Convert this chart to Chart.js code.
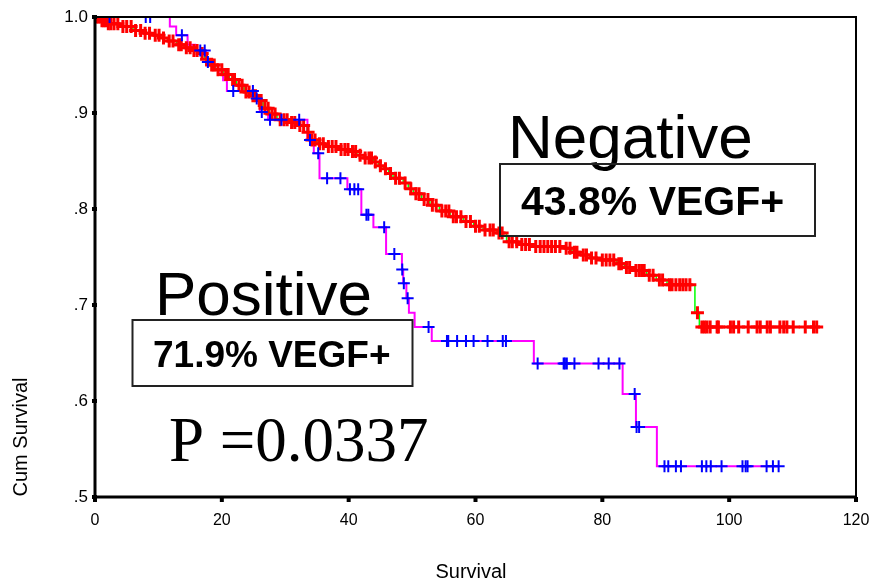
<!DOCTYPE html>
<html><head><meta charset="utf-8">
<script src="https://cdn.jsdelivr.net/npm/chart.js@4.4.0/dist/chart.umd.min.js"></script>
<style>html,body{margin:0;padding:0;background:#fff}</style>
</head><body>
<canvas id="km" width="875" height="580"></canvas>
<script>
/* ===== DATA ===== */

// Negative group: event times and survival after each drop
const negTimes=[0,1.0,2.0,4.0,6.0,7.5,9.0,10.3,11.5,12.9,14.0,15.3,16.6,17.3,18.1,19.0,20.2,21.2,22.3,23.5,24.5,25.5,26.5,27.5,28.7,30.5,31.8,33.4,33.9,35.0,36.5,38.5,40.2,41.3,42.3,43.9,44.7,45.5,46.3,47.0,48.6,49.4,50.2,51.5,52.8,54.3,56.0,58.1,59.7,61.2,63.4,64.9,67.0,69.1,73.9,75.2,76.5,78.0,79.7,82.3,83.5,84.9,87.0,88.5,90.2,94.6,95.3]
const negSurv=[1,.996,.993,.990,.986,.983,.981,.978,.975,.971,.968,.965,.962,.956,.950,.945,.940,.935,.929,.922,.918,.913,.905,.899,.893,.890,.887,.880,.872,.868,.865,.862,.860,.856,.853,.849,.845,.842,.837,.832,.827,.821,.816,.810,.804,.798,.792,.787,.782,.778,.775,.766,.763,.761,.759,.755,.752,.749,.747,.743,.739,.736,.731,.726,.721,.692,.677]
const negEnd=114.8
const negCensor=[0.2,0.5,0.8,1.1,1.4,1.7,2.1,2.5,3.0,3.6,4.4,5.0,5.7,6.4,7.2,7.9,8.6,9.5,10.1,10.8,11.7,12.3,13.2,13.6,14.4,15.0,15.6,16.1,16.9,17.6,18.4,18.8,19.4,20.0,20.6,21.0,21.7,22.0,22.7,23.2,23.8,24.3,24.9,25.3,25.9,26.2,26.8,27.3,27.9,28.4,29.2,29.8,30.3,31.0,31.5,32.3,32.9,33.6,34.2,34.7,35.4,36.0,36.8,37.4,38.0,38.8,39.4,39.9,40.6,41.1,41.8,42.6,43.2,43.6,44.2,45.0,45.8,46.6,47.4,48.0,48.9,49.8,50.6,51.1,51.9,52.5,53.2,53.8,54.7,55.3,55.8,56.5,57.0,57.7,58.5,59.2,60.0,60.6,61.5,62.3,62.8,63.7,64.2,65.3,65.8,66.5,67.3,67.9,68.5,69.5,70.2,70.8,71.4,72.0,72.6,73.3,74.3,74.9,75.6,76.0,77.0,77.5,78.3,79.0,80.0,80.6,81.2,81.8,82.6,83.0,83.8,84.3,85.3,85.8,86.2,86.6,87.4,88.0,89.0,89.5,90.6,91.0,91.6,92.2,92.7,93.2,93.8,95.0,95.7,96.1,96.5,97.0,98.1,98.3,100.2,100.7,101.5,103.0,104.4,104.9,106.0,106.5,108.0,108.6,109.1,110.1,112.0,113.3,113.8]

// Positive group
const posTimes=[0,11.8,12.8,14.6,15.8,17.5,17.8,18.6,19.5,20.2,20.8,25.3,26.0,27.3,33.5,34.5,35.4,39.8,42.0,43.9,45.9,48.4,48.6,49.1,49.5,50.4,53.1,69.2,83.2,85.3,88.6]
const posSurv=[1,.990,.981,.971,.965,.958,.953,.946,.940,.934,.923,.915,.901,.893,.872,.858,.832,.8205,.794,.781,.753,.737,.7226,.707,.692,.677,.6625,.639,.6073,.573,.532]
const posEnd=107.8
const posCensor=[2.3,8.0,8.7,13.7,16.6,17.3,17.8,21.8,24.9,25.5,26.3,27.6,29.4,32.2,33.9,35.2,36.6,38.7,40.2,40.9,41.5,42.8,43.1,45.6,47.2,48.45,48.7,49.3,52.6,55.5,55.7,57.1,58.5,59.7,61.9,64.3,64.8,69.8,73.9,74.1,74.4,75.6,79.4,81.0,82.7,85.1,85.4,85.8,89.8,90.4,91.6,92.4,95.7,96.4,97.1,98.8,102.1,102.6,102.9,105.9,106.9,107.8]

const xTicks=[0,20,40,60,80,100,120]
const yTicks=[.5,.6,.7,.8,.9,1]
const yTickLabels=[".5",".6",".7",".8",".9","1.0"]

/* ===== HELPERS ===== */

const SANS="'Liberation Sans', Arial, sans-serif"
const SERIF="'Liberation Serif', 'Times New Roman', serif"

function curve(t,s,end){
 const pts=t.map((x,i)=>({x,y:s[i]}))
 pts.push({x:end,y:s[s.length-1]})
 return pts
}
function survAt(t,s,x){
 let y=s[0]
 for(let i=0;i<t.length;i++) if(t[i]<=x) y=s[i]
 return y
}
function marks(c,t,s){return c.map(x=>({x,y:survAt(t,s,x)}))}

/* ===== DECORATION ===== */

const frame={
 id:"frame",
 afterDatasetsDraw(ch){
  const c=ch.ctx,a=ch.chartArea,xs=ch.scales.x,ys=ch.scales.y
  c.save()
  c.strokeStyle="#000"
  c.lineWidth=2
  c.beginPath();c.moveTo(a.left,a.top);c.lineTo(a.right,a.top);c.lineTo(a.right,a.bottom);c.stroke()
  c.lineWidth=3
  c.beginPath();c.moveTo(a.left,a.top);c.lineTo(a.left,a.bottom);c.lineTo(a.right,a.bottom);c.stroke()
  c.fillStyle="#000"
  yTicks.forEach(v=>{const y=ys.getPixelForValue(v);c.fillRect(a.left-3,y-2,5,4)})
  xTicks.forEach(v=>{const x=xs.getPixelForValue(v);c.fillRect(x-2,a.bottom,4,5)})

  // titles
  c.font="20px "+SANS
  c.textAlign="center";c.textBaseline="alphabetic"
  c.fillText("Survival",471,578)
  c.save();c.translate(27,437);c.rotate(-Math.PI/2);c.fillText("Cum Survival",0,0);c.restore()

  // annotations
  c.textAlign="left"
  c.font="62px "+SANS
  c.fillText("Negative",508,158)
  c.fillText("Positive",155,315)
  c.lineWidth=2;c.strokeStyle="#222"
  c.strokeRect(500,164,315,72)
  c.strokeRect(132.5,320,280,66)
  c.font="bold 41px "+SANS
  c.fillText("43.8% VEGF+",521,215)
  c.font="bold 37px "+SANS
  c.fillText("71.9% VEGF+",153,367)
  c.font="63px "+SERIF
  c.fillText("P =0.0337",169,461)
  c.restore()
 }
}

/* ===== CHART ===== */

new Chart(document.getElementById("km"),{
 type:"scatter",
 data:{datasets:[
  {data:marks(posCensor,posTimes,posSurv),pointStyle:"cross",pointRadius:6,pointBorderWidth:2,borderColor:"#0000ff",backgroundColor:"#0000ff",order:0},
  {data:marks(negCensor,negTimes,negSurv),pointStyle:"cross",pointRadius:6.5,pointBorderWidth:3,borderColor:"#ff0000",backgroundColor:"#ff0000",order:1},
  {data:curve(posTimes,posSurv,posEnd),showLine:true,stepped:true,pointRadius:0,borderColor:"#ff00ff",borderWidth:2,order:2},
  {data:curve(negTimes,negSurv,negEnd),showLine:true,stepped:true,pointRadius:0,borderColor:"#00ff00",borderWidth:1.5,order:3}
 ]},
 options:{
  responsive:false,
  animation:false,
  events:[],
  layout:{padding:{top:17,right:19,left:0,bottom:0}},
  plugins:{legend:{display:false},tooltip:{enabled:false}},
  scales:{
   x:{
    type:"linear",min:0,max:120,
    afterBuildTicks:s=>{s.ticks=xTicks.map(v=>({value:v}))},
    afterFit:s=>{s.height=83;s.paddingLeft=0;s.paddingRight=0},
    grid:{display:false,drawTicks:false},
    border:{display:false},
    ticks:{color:"#000",padding:14,font:{family:SANS,size:16}}
   },
   y:{
    type:"linear",min:.5,max:1,
    afterBuildTicks:s=>{s.ticks=yTicks.map(v=>({value:v}))},
    afterFit:s=>{s.width=95;s.paddingTop=0;s.paddingBottom=0},
    grid:{display:false,drawTicks:false},
    border:{display:false},
    ticks:{color:"#000",padding:7,font:{family:SANS,size:17},
     callback:(v,i)=>yTickLabels[i]}
   }
  }
 },
 plugins:[frame]
})
</script>
</body></html>
